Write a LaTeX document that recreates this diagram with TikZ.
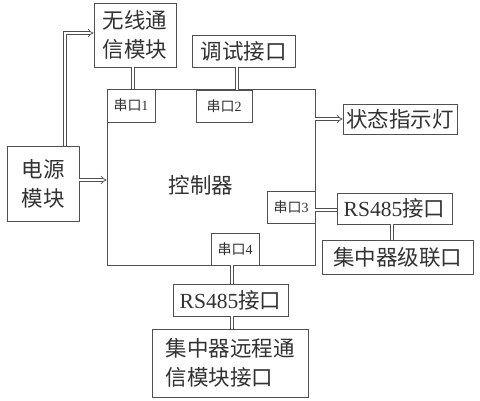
\documentclass[tikz,border=0pt]{standalone}
\usepackage{fontspec}
\setmainfont{Liberation Serif}
\newfontfamily\cjk{Noto Sans CJK SC}
\usetikzlibrary{arrows.meta}
\definecolor{ln}{RGB}{80,80,80}
\definecolor{tx}{RGB}{50,50,50}
\tikzset{
  box/.style={draw=ln, line width=0.9pt, inner sep=0pt, text=tx, align=center,
    font=\fontsize{21.5}{29}\selectfont},
  box2/.style={box, align=left},
  port/.style={box, font=\fontsize{14}{16}\selectfont},
  dbl/.style={draw=ln, line width=0.7pt, double=white, double distance=2.2pt},
  dblarr/.style={dbl, -{Implies}}
}
\newcommand{\bx}[6]{%
  \node[#6, minimum width={(#4-#2)*1pt}, minimum height={(#5-#3)*1pt}] (#1) at ({(#2+#4)/2},{(#3+#5)/2})}
\begin{document}
\begin{tikzpicture}[x=1pt,y=-1pt]
\useasboundingbox[fill=white] (0,0) rectangle (480,400);
% controller
\bx{ctl}{107}{89}{315}{265}{box}{};
\node[text=tx, font=\fontsize{21.5}{24}\selectfont\cjk] (ctltxt) at (201,185) {控制器};
% wireless
\bx{wl}{94}{3}{176}{67}{box2}{\cjk 无线通\\ \cjk 信模块};
% debug
\bx{dbg}{192}{35}{295}{67}{box}{\cjk 调试接口};
% ports
\bx{p1}{107}{89}{155}{122}{port}{{\cjk 串口}1};
\bx{p2}{196}{90}{252}{122}{port}{{\cjk 串口}2};
\bx{p3}{267}{191}{315}{223}{port}{{\cjk 串口}3};
\bx{p4}{211}{233}{259}{265}{port}{{\cjk 串口}4};
% power
\bx{pw}{7}{146}{79}{221}{box}{\cjk 电源\\ \cjk 模块};
% status
\bx{st}{343}{104}{457}{134}{box}{\cjk 状态指示灯};
% rs485 right
\bx{rs1}{337}{193}{452}{224}{box}{RS485{\cjk 接口}};
\bx{jl}{322}{240}{473}{274}{box}{\cjk 集中器级联口};
% rs485 bottom
\bx{rs2}{173}{284}{288}{316}{box}{RS485{\cjk 接口}};
\bx{rc}{152}{329}{308}{397}{box2}{\cjk 集中器远程通\\ \cjk 信模块接口};
% connectors
\draw[dbl] ([xshift=-2pt]wl.south) -- ([xshift=-2pt]wl.south |- p1.north);
\path (dbg.south) ++(-6.5,0) coordinate (dbgc);
\draw[dbl] (dbgc) -- (dbgc |- p2.north);
\draw[dbl] ([yshift=-3pt]p3.east) -- ([yshift=-3pt]p3.east -| rs1.west);
\draw[dbl] ([xshift=-2.5pt]rs1.south) -- ([xshift=-2.5pt]rs1.south |- jl.north);
\path (p4.south) ++(-3,0) coordinate (p4c);
\draw[dbl] (p4c) -- (p4c |- rs2.north);
\draw[dbl] (p4c |- rs2.south) -- (p4c |- rc.north);
% arrows
\path (pw.north) ++(22,0) coordinate (pwn);
\draw[dblarr] (pwn) |- ([yshift=2pt]wl.west);
\draw[dblarr] ([yshift=3.5pt]pw.east) -- ([yshift=3.5pt]pw.east -| ctl.west);
\draw[dblarr] (ctl.east |- st.west) -- (st.west);
\end{tikzpicture}
\end{document}
